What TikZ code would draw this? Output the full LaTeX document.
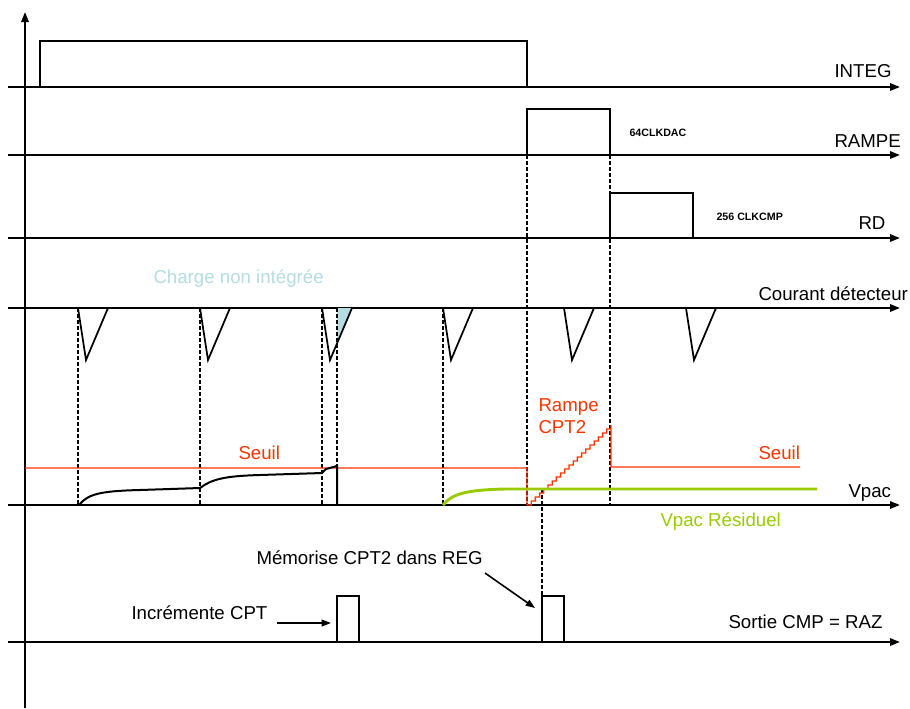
\documentclass[tikz,border=0pt]{standalone}
\usepackage{fontspec}
\setmainfont{Liberation Sans}
\usetikzlibrary{arrows.meta}

\definecolor{seuilred}{RGB}{255,51,0}
\definecolor{vpacgreen}{RGB}{153,204,0}
\definecolor{chargeblue}{RGB}{180,220,226}

\tikzset{every picture/.style={line width=0.75pt}}
\tikzset{
  axis/.style={line width=1.5, -{Triangle[length=7.5pt,width=5.5pt]}},
  sig/.style={line width=1.5},
  guide/.style={line width=1.1, dash pattern={on 3pt off 1.5pt}},
  lbl/.style={anchor=base west, inner sep=0.75pt, font=\fontsize{14}{16.5}\selectfont},
  tag/.style={anchor=base west, inner sep=0.75pt, font=\fontsize{8}{9}\selectfont\bfseries},
  pointer/.style={line width=1.2, -{Triangle[length=7pt,width=5pt]}}
}

\begin{document}
\begin{tikzpicture}[x=0.75pt,y=0.75pt,yscale=-1,xscale=1]
\useasboundingbox (0,0) rectangle (910,708);

%Shape: Axis vertical
\draw [axis] (25,708) -- (25,12) ;
%Shape: Axes horizontal
\draw [axis] (8,87) -- (900,87) ;
\draw [axis] (8,155) -- (900,155) ;
\draw [axis] (8,238) -- (900,238) ;
\draw [axis] (8,308) -- (900,308) ;
\draw [axis] (8,505) -- (900,505) ;
\draw [axis] (8,642) -- (900,642) ;

%Straight Lines: INTEG
\draw [sig] (25,87) -- (40,87) -- (40,41) -- (527,41) -- (527,87) ;
%Straight Lines: RAMPE
\draw [line width=2.2] (25,155) -- (40,155) ;
\draw [sig] (527,155) -- (527,109) -- (610,109) -- (610,155) ;
%Straight Lines: RD
\draw [sig] (610,238) -- (610,193) -- (693,193) -- (693,238) ;

%Shape: charge non integree
\fill [chargeblue] (337,308) -- (352,308) -- (337,343) -- cycle ;
%Straight Lines: courant detecteur
\foreach \t in {78,200,322,443,564,686}
  \draw [line width=1.3] (\t,308) -- (\t+8,360) -- (\t+30,308) ;

%Straight Lines: dashed guides
\foreach \t in {78,200,322,337,443}
  \draw [guide] (\t,308) -- (\t,505) ;
\draw [guide] (527,155) -- (527,505) ;
\draw [guide] (610,155) -- (610,505) ;
\draw [guide] (542,489) -- (542,596) ;

%Straight Lines: seuil
\draw [seuilred, line width=1] (25,468) -- (527,468) -- (527,505)
  \foreach \i in {1,...,20} { -- ++(4.2,0) -- ++(0,-4) } -- (611,467) -- (800,467) ;

%Curve Lines: Vpac
\draw [line width=1.5] (79,505) .. controls (88,494) and (100,491) .. (140,490) -- (200,488)
  .. controls (212,479) and (225,476) .. (260,475) -- (322,473) -- (326,469) -- (337,466) -- (337,505) ;
%Curve Lines: Vpac residuel
\draw [vpacgreen, line width=2.2] (443,505) .. controls (452,494) and (465,490) .. (505,489) -- (817,489) ;

%Straight Lines: sortie CMP
\draw [sig] (337,642) -- (337,596) -- (359,596) -- (359,642) ;
\draw [sig] (542,642) -- (542,596) -- (564,596) -- (564,642) ;

% Text Node
\draw (833,77) node [lbl] (integ) {INTEG};
% Text Node
\draw (833,147) node [lbl] (rampe) {RAMPE};
% Text Node
\draw (628,136) node [tag] (clkdac) {64CLKDAC};
% Text Node
\draw (857,229) node [lbl] (rd) {RD};
% Text Node
\draw (715,220) node [tag] (clkcmp) {256 CLKCMP};
% Text Node
\draw (152,283) node [lbl, text=chargeblue] (charge) {Charge non intégrée};
% Text Node
\draw (757,300) node [lbl] (courant) {Courant détecteur};
% Text Node
\draw (237,459) node [lbl, text=seuilred] (seuil) {Seuil};
% Text Node
\draw (757,459) node [lbl, text=seuilred] (seuilb) {Seuil};
% Text Node
\draw (537,397) node [lbl, anchor=north west, align=left, text=seuilred] (rampecpt) {Rampe\\CPT2};
% Text Node
\draw (847,497) node [lbl] (vpac) {Vpac};
% Text Node
\draw (659,526) node [lbl, text=vpacgreen] (residuel) {Vpac Résiduel};
% Text Node
\draw (255,564) node [lbl] (memo) {Mémorise CPT2 dans REG};
% Text Node
\draw (130,619) node [lbl] (incr) {Incrémente CPT};
% Text Node
\draw (727,628) node [lbl] (sortie) {Sortie CMP = RAZ};

%Straight Lines: pointers
\coordinate (incrtail) at ([xshift=6pt,yshift=3pt]incr.base east) ;
\coordinate (cptpulse) at (331,616) ;
\coordinate (memotail) at (485,573) ;
\coordinate (regpulse) at (535,608) ;
\draw [pointer] (incrtail) -- (incrtail -| cptpulse) ;
\draw [pointer] (memotail) -- (regpulse) ;

\end{tikzpicture}
\end{document}
